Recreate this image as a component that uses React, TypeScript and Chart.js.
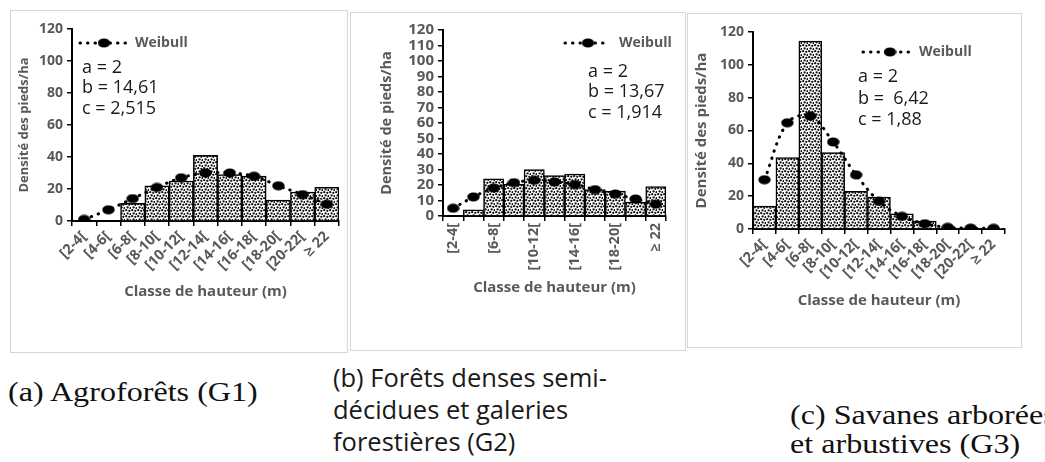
import React, { useEffect, useRef } from "react";
import { Chart, registerables } from "chart.js";

Chart.register(...registerables);

const FONT = "'Open Sans', 'DejaVu Sans', sans-serif";
const GRAY = "#595959";

// ---------- data ----------
const categories = ["[2-4[", "[4-6[", "[6-8[", "[8-10[", "[10-12[", "[12-14[", "[14-16[", "[16-18[", "[18-20[", "[20-22[", "≥ 22"];

const g1Observed = [0, 0, 11, 22, 25, 41, 29, 28, 13, 18, 21];
const g1Weibull = [1, 7, 14, 21, 27, 30, 30, 28, 22, 16.5, 10.5];
const g1Params = ["a = 2", "b = 14,61", "c = 2,515"];

const g2Observed = [0, 4, 24, 20.5, 30, 26, 27, 17, 16, 9, 19];
const g2Weibull = [5, 12.3, 18, 21.5, 23, 22, 20.3, 17, 14.2, 11, 7.7];
const g2Params = ["a = 2", "b = 13,67", "c = 1,914"];

const g3Observed = [14, 43.5, 114.5, 46.5, 23, 19.4, 9.3, 4.8, 0.6, 0.5, 0.4];
const g3Weibull = [30, 64.7, 68.8, 53, 33, 16.8, 7.7, 3.2, 1, 0.5, 0.4];
const g3Params = ["a = 2", "b =  6,42", "c = 1,88"];

const xTitle = "Classe de hauteur (m)";
const legendLabel = "Weibull";

// ---------- layout / style ----------
type PanelCfg = {
  id: string;
  box: { left: number; top: number; width: number; height: number };
  area: { left: number; top: number; right: number; bottom: number };
  yTitle: string;
  yTitleX: number;
  yTitleSize: number;
  xTitleY: number;
  yTickSize: number;
  xTickSize: number;
  rotation: number;
  step: number;
  every: number;
  legend: { x1: number; x2: number; dot: number; y: number; textX: number };
  paramsX: number;
  paramsY: number[];
  observed: number[];
  weibull: number[];
  params: string[];
};

const panels: PanelCfg[] = [
  {
    id: "g1",
    box: { left: 10, top: 10, width: 338, height: 343 },
    area: { left: 61, top: 18, right: 332, bottom: 210 },
    yTitle: "Densité des pieds/ha",
    yTitleX: 13,
    yTitleSize: 13,
    xTitleY: 281,
    yTickSize: 14,
    xTickSize: 14.5,
    rotation: 45,
    step: 20,
    every: 1,
    legend: { x1: 69, x2: 119, dot: 93, y: 32, textX: 124 },
    paramsX: 71,
    paramsY: [57, 77, 98],
    observed: g1Observed,
    weibull: g1Weibull,
    params: g1Params,
  },
  {
    id: "g2",
    box: { left: 350, top: 12, width: 336, height: 339 },
    area: { left: 92, top: 17, right: 315, bottom: 203 },
    yTitle: "Densité de pieds/ha",
    yTitleX: 36,
    yTitleSize: 14.5,
    xTitleY: 275,
    yTickSize: 15,
    xTickSize: 14.5,
    rotation: 90,
    step: 10,
    every: 2,
    legend: { x1: 214, x2: 257, dot: 237, y: 30, textX: 268 },
    paramsX: 237,
    paramsY: [59, 79, 100],
    observed: g2Observed,
    weibull: g2Weibull,
    params: g2Params,
  },
  {
    id: "g3",
    box: { left: 687, top: 13, width: 335, height: 335 },
    area: { left: 65, top: 18, right: 317, bottom: 215 },
    yTitle: "Densité des pieds/ha",
    yTitleX: 14,
    yTitleSize: 15,
    xTitleY: 287,
    yTickSize: 14,
    xTickSize: 14.5,
    rotation: 45,
    step: 20,
    every: 1,
    legend: { x1: 175, x2: 224, dot: 202, y: 38, textX: 231 },
    paramsX: 170,
    paramsY: [63, 85, 106],
    observed: g3Observed,
    weibull: g3Weibull,
    params: g3Params,
  },
];

function makePattern(ctx: CanvasRenderingContext2D) {
  const c = document.createElement("canvas");
  c.width = 6;
  c.height = 6;
  const g = c.getContext("2d")!;
  g.fillStyle = "#fff";
  g.fillRect(0, 0, 6, 6);
  g.fillStyle = "#111";
  const dots = [
    [1.2, 1.2],
    [4.3, 1.8],
    [2.6, 4.4],
    [5.6, 5.2],
  ];
  dots.forEach(([x, y]) => {
    g.beginPath();
    g.arc(x, y, 1.15, 0, Math.PI * 2);
    g.fill();
  });
  return ctx.createPattern(c, "repeat")!;
}

function makeDot() {
  const c = document.createElement("canvas");
  c.width = 13;
  c.height = 10;
  const g = c.getContext("2d")!;
  g.fillStyle = "#000";
  g.beginPath();
  g.ellipse(6.5, 5, 6.2, 4.6, 0, 0, Math.PI * 2);
  g.fill();
  return c;
}

function Panel({ cfg }: { cfg: PanelCfg }) {
  const ref = useRef<HTMLCanvasElement>(null);
  const W = cfg.box.width - 2;
  const H = cfg.box.height - 2;

  useEffect(() => {
    const canvas = ref.current!;
    const ctx = canvas.getContext("2d")!;
    const pattern = makePattern(ctx);
    const dot = makeDot();
    const xTitleSize = 15;
    const xHeight = cfg.xTitleY + (xTitleSize * 1.2) / 2 - cfg.area.bottom;
    const padLeft = cfg.yTitleX - (cfg.yTitleSize * 1.2) / 2;

    const annot = {
      id: "weibullAnnot_" + cfg.id,
      afterDraw(chart: any) {
        const c = chart.ctx as CanvasRenderingContext2D;
        const L = cfg.legend;
        c.save();
        c.strokeStyle = "#000";
        c.lineWidth = 3;
        c.lineCap = "round";
        c.setLineDash([0.5, 7]);
        c.beginPath();
        c.moveTo(L.x1, L.y);
        c.lineTo(L.x2, L.y);
        c.stroke();
        c.setLineDash([]);
        c.drawImage(dot, L.dot - dot.width / 2, L.y - dot.height / 2);
        c.fillStyle = GRAY;
        c.font = `bold 14px ${FONT}`;
        c.textBaseline = "middle";
        c.textAlign = "left";
        c.fillText(legendLabel, L.textX, L.y);
        c.fillStyle = "#1a1a1a";
        c.font = `18px ${FONT}`;
        cfg.params.forEach((t, i) => c.fillText(t, cfg.paramsX, cfg.paramsY[i]));
        c.restore();
      },
    };

    const chart = new Chart(canvas, {
      type: "bar",
      data: {
        labels: categories,
        datasets: [
          {
            type: "line",
            label: legendLabel,
            data: cfg.weibull,
            borderColor: "#000",
            backgroundColor: "#000",
            borderWidth: 3,
            borderDash: [0.5, 7],
            borderCapStyle: "round",
            pointStyle: dot as any,
            pointRadius: 5,
            tension: 0.35,
            fill: false,
            order: 1,
          } as any,
          {
            type: "bar",
            label: "Observé",
            data: cfg.observed,
            backgroundColor: pattern as any,
            borderColor: "#000",
            borderWidth: 1.5,
            categoryPercentage: 1,
            barPercentage: 1,
            order: 2,
          } as any,
        ],
      },
      options: {
        responsive: false,
        animation: false,
        devicePixelRatio: 1,
        layout: {
          padding: {
            left: padLeft,
            top: cfg.area.top,
            right: W - cfg.area.right,
            bottom: H - cfg.area.bottom - xHeight,
          },
        },
        plugins: { legend: { display: false }, tooltip: { enabled: false } },
        scales: {
          x: {
            offset: true,
            grid: {
              display: true,
              drawOnChartArea: false,
              drawTicks: true,
              tickLength: 5,
              color: "#000",
              lineWidth: 1.5,
              offset: true,
            },
            border: { display: true, color: "#000", width: 2 },
            ticks: {
              autoSkip: false,
              minRotation: cfg.rotation,
              maxRotation: cfg.rotation,
              color: GRAY,
              padding: 2,
              font: { family: FONT, size: cfg.xTickSize, weight: "bold" },
              callback: (_v: any, i: number) => (i % cfg.every === 0 ? categories[i] : ""),
            },
            title: {
              display: true,
              text: xTitle,
              color: GRAY,
              padding: 0,
              font: { family: FONT, size: xTitleSize, weight: "bold" },
            },
            afterFit: (s: any) => {
              s.height = xHeight;
            },
          },
          y: {
            min: 0,
            max: 120,
            grid: {
              display: true,
              drawOnChartArea: false,
              drawTicks: true,
              tickLength: 5,
              color: "#000",
              lineWidth: 1.5,
            },
            border: { display: true, color: "#000", width: 2 },
            ticks: {
              stepSize: cfg.step,
              autoSkip: false,
              color: GRAY,
              padding: 4,
              font: { family: FONT, size: cfg.yTickSize, weight: "bold" },
            },
            title: {
              display: true,
              text: cfg.yTitle,
              color: GRAY,
              padding: 0,
              font: { family: FONT, size: cfg.yTitleSize, weight: "bold" },
            },
            afterFit: (s: any) => {
              s.width = cfg.area.left - padLeft;
            },
          },
        },
      } as any,
      plugins: [annot],
    });
    return () => chart.destroy();
  }, []);

  return (
    <div
      style={{
        position: "absolute",
        left: cfg.box.left,
        top: cfg.box.top,
        width: cfg.box.width,
        height: cfg.box.height,
        border: "1px solid #d6d6d6",
        boxSizing: "border-box",
      }}
    >
      <canvas ref={ref} width={W} height={H} style={{ display: "block" }} />
    </div>
  );
}

const serifCaption: React.CSSProperties = {
  position: "absolute",
  fontFamily: "'Liberation Serif', 'Times New Roman', serif",
  fontSize: 27,
  lineHeight: "27px",
  whiteSpace: "nowrap",
  transform: "scaleX(1.19)",
  transformOrigin: "left top",
  color: "#111",
};

const sansCaption: React.CSSProperties = {
  position: "absolute",
  fontFamily: FONT,
  fontSize: 25.5,
  lineHeight: "32px",
  whiteSpace: "nowrap",
  color: "#1a1a1a",
};

export default function App() {
  return (
    <div
      style={{
        position: "absolute",
        left: 0,
        top: 0,
        width: 1045,
        height: 462,
        overflow: "hidden",
        background: "#fff",
      }}
    >
      {panels.map((p) => (
        <Panel key={p.id} cfg={p} />
      ))}
      <div style={{ ...serifCaption, left: 8, top: 379 }}>(a) Agroforêts (G1)</div>
      <div style={{ ...sansCaption, left: 333, top: 361 }}>
        (b) Forêts denses semi-
        <br />
        décidues et galeries
        <br />
        forestières (G2)
      </div>
      <div style={{ ...serifCaption, left: 790, top: 402 }}>(c) Savanes arborées</div>
      <div style={{ ...serifCaption, left: 790, top: 431 }}>et arbustives (G3)</div>
    </div>
  );
}
